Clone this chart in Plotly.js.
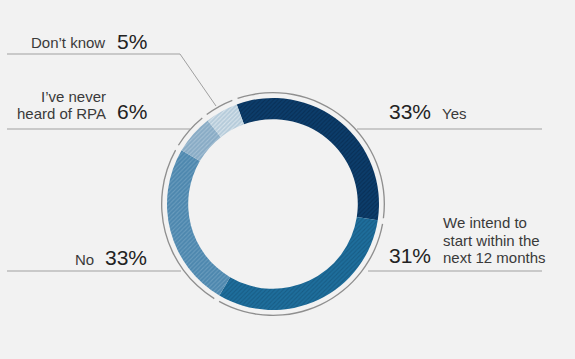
<!DOCTYPE html>
<html>
<head>
<meta charset="utf-8">
<script src="https://cdn.plot.ly/plotly-3.0.1.min.js"></script>
<style>html,body{margin:0;padding:0;background:#f2f2f2;}#chart{width:575px;height:359px;}</style>
</head>
<body>
<div id="chart"></div>
<script>
// ---- data ----
var categories = ["Yes", "We intend to start within the next 12 months", "No", "I’ve never heard of RPA", "Don’t know"];
var labelLines = [["Yes"], ["We intend to", "start within the", "next 12 months"], ["No"], ["I’ve never", "heard of RPA"], ["Don’t know"]];
var percentLabels = [33, 31, 33, 6, 5];          // printed values
var arcValues = [33, 31, 25, 6, 5];              // arc sizes as drawn in the picture
var sliceColors = ["#0c3d6b", "#1e6e9c", "#4d87ae", "#88abc5", "#b5cbda"];
var stripeColors = ["#082f56", "#185d86", "#6b9dbe", "#a6c1d5", "#d8e4ec"];

var W = 575, H = 359;
function px(x){ return x / W; }
function py(y){ return 1 - y / H; }

var cx = 273, cy = 204, R = 106, Rring = 112;

var donut = {
  type: "pie",
  values: arcValues,
  labels: categories,
  sort: false,
  direction: "clockwise",
  rotation: -20,
  hole: 0.80,
  textinfo: "none",
  hoverinfo: "none",
  showlegend: false,
  domain: { x: [px(cx - R), px(cx + R)], y: [py(cy + R), py(cy - R)] },
  marker: {
    colors: sliceColors,
    line: { width: 0 },
    pattern: { shape: "/", fgcolor: stripeColors, bgcolor: sliceColors, size: 3, solidity: 0.35, fillmode: "replace" }
  }
};

// outer thin ring, with small gaps at each slice boundary
var gap = 0.8;
var ringVals = [], ringCols = [], ringLabs = [];
arcValues.forEach(function(v, i){
  ringVals.push(v - gap); ringCols.push("#8f8f8f"); ringLabs.push("r" + i);
  ringVals.push(gap); ringCols.push("rgba(0,0,0,0)"); ringLabs.push("g" + i);
});
var ring = {
  type: "pie",
  values: ringVals,
  labels: ringLabs,
  sort: false,
  direction: "clockwise",
  rotation: -20 + gap * 1.8,
  hole: 0.988,
  textinfo: "none",
  hoverinfo: "none",
  showlegend: false,
  domain: { x: [px(cx - Rring), px(cx + Rring)], y: [py(cy + Rring), py(cy - Rring)] },
  marker: { colors: ringCols, line: { width: 0 } }
};

var lineStyle = { color: "#a0a0a0", width: 1 };
function seg(x0, y0, x1, y1){
  return { type: "line", xref: "paper", yref: "paper", x0: px(x0), y0: py(y0), x1: px(x1), y1: py(y1), line: lineStyle };
}
var shapes = [
  seg(7, 54, 180, 54), seg(180, 54, 216, 106),
  seg(7, 129, 190, 129),
  seg(7, 271, 181, 271),
  seg(357, 129, 542, 129),
  seg(368, 271, 542, 271)
];

var labelFont = { family: "Liberation Sans, Arial, sans-serif", size: 15, color: "#3a3a3a" };
var pctFont = { family: "Liberation Sans, Arial, sans-serif", size: 21, color: "#222222" };
function ann(x, y, text, font, xanchor){
  return { xref: "paper", yref: "paper", x: px(x), y: py(y), text: text, showarrow: false,
           font: font, xanchor: xanchor, yanchor: "middle", align: xanchor };
}
// multi-line labels: one annotation per line, 17px apart
function lines(x, yFirst, arr, xanchor){
  return arr.map(function(t, k){ return ann(x, yFirst + 17 * k, t, labelFont, xanchor); });
}
var annotations = [].concat(
  lines(107, 42, labelLines[4], "right"),
  [ann(115, 41, percentLabels[4] + "%", pctFont, "left")],
  lines(108, 97, labelLines[3], "right"),
  [ann(115, 111, percentLabels[3] + "%", pctFont, "left")],
  [ann(387, 112, percentLabels[0] + "%", pctFont, "left")],
  lines(440, 113, labelLines[0], "left"),
  lines(441, 223, labelLines[1], "left"),
  [ann(387, 255, percentLabels[1] + "%", pctFont, "left")],
  lines(96, 259, labelLines[2], "right"),
  [ann(103, 257, percentLabels[2] + "%", pctFont, "left")]
);

var layout = {
  width: W, height: H,
  margin: { l: 0, r: 0, t: 0, b: 0 },
  paper_bgcolor: "#f2f2f2",
  plot_bgcolor: "#f2f2f2",
  showlegend: false,
  shapes: shapes,
  annotations: annotations
};

Plotly.newPlot("chart", [ring, donut], layout, { staticPlot: true, displayModeBar: false });
</script>
</body>
</html>
